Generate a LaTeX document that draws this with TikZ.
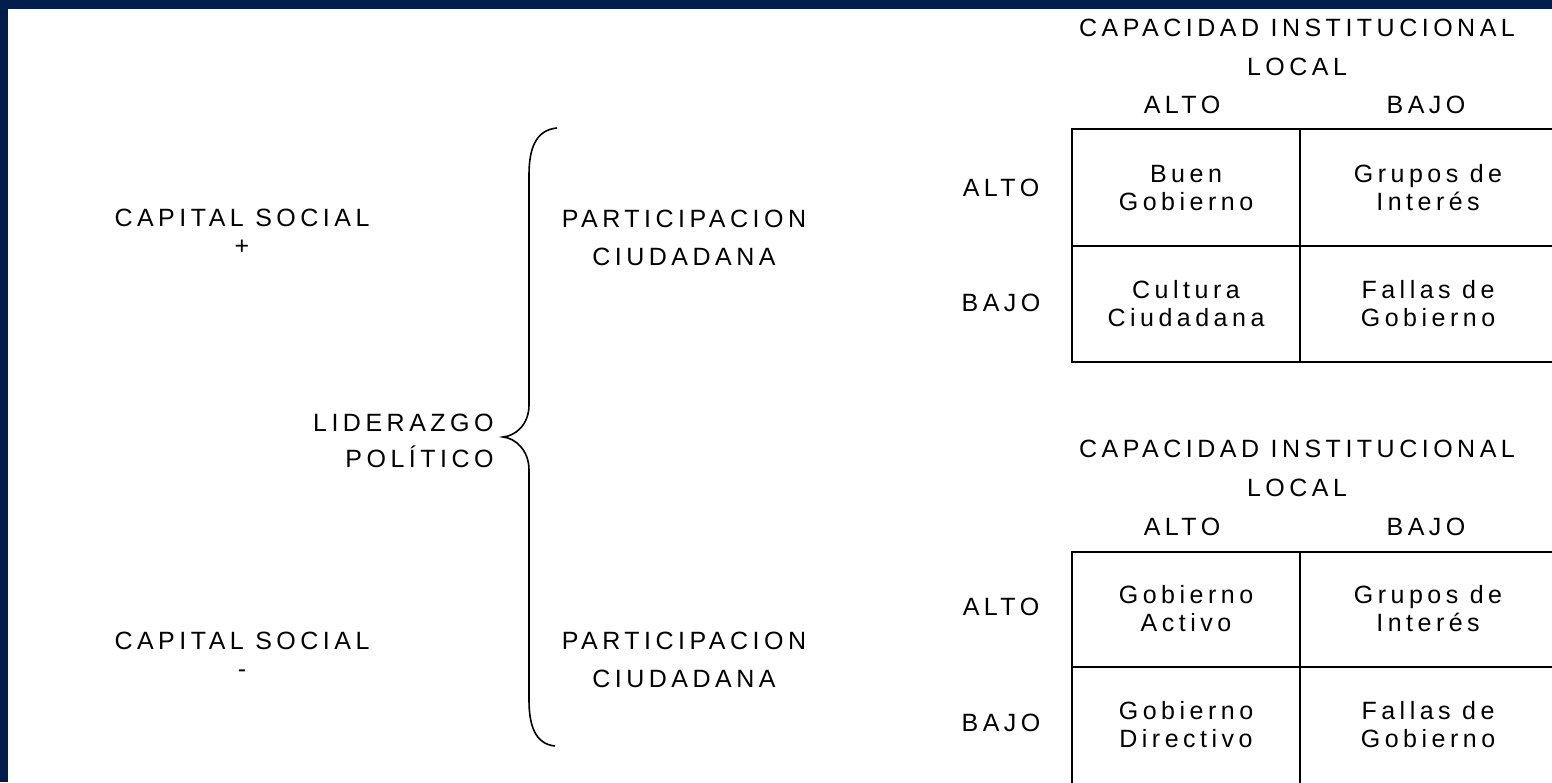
\documentclass[tikz,border=0pt]{standalone}
\usepackage{fontspec}
\setmainfont{Liberation Sans}[LetterSpace=18]
\usetikzlibrary{positioning,calc}
\definecolor{marco}{RGB}{0,29,76}

\begin{document}
\begin{tikzpicture}[
			x=0.5pt, y=-0.5pt, % un pixel de la imagen
			txt/.style={inner sep=0pt, align=center, font=\fontsize{12.5}{14}\selectfont},
			rejilla/.style={black, line width=1pt},
			llave/.style={black, line width=0.8pt}]
		\useasboundingbox (0,0) rectangle (1552,782);
		\fill [marco] (0,0) rectangle (1552,782);
		\fill [white] (8,9) rectangle (1560,790);
		% lado izquierdo
		\path 	(242,232) 	node 	(cs1) [txt] {CAPITAL SOCIAL\\+}
		        (242,655) 	node 	(cs2) [txt] {CAPITAL SOCIAL\\-}
		        (684,238) 	node 	(pc1) [txt] {PARTICIPACION\\[5pt]CIUDADANA}
		        (684,660) 	node 	(pc2) [txt] {PARTICIPACION\\[5pt]CIUDADANA}
		        (503,437) 	coordinate (punta)
		        (494,441) 	node 	(lp) [txt, anchor=east, align=right] {LIDERAZGO\\[4pt]POLÍTICO};
		\draw [llave] (557,128) .. controls (535,130) and (529,150) .. (529,175) -- (529,405)
		        .. controls (529,425) and (515,436) .. (punta)
		        .. controls (515,438) and (529,450) .. (529,470) -- (529,700)
		        .. controls (529,725) and (535,744) .. (555,746);
		% primera tabla
		\path 	(1297,47.5) node 	(ci1) [txt] {CAPACIDAD INSTITUCIONAL\\[5.5pt]LOCAL}
		        (1182,105) 	node 	(ca1) [txt] {ALTO}
		        (1426,105) 	node 	(cb1) [txt] {BAJO}
		        (1001,188) 	node 	(fa1) [txt] {ALTO}
		        (1001,303) 	node 	(fb1) [txt] {BAJO}
		        (1186,188) 	node 	(c11) [txt] {Buen\\Gobierno}
		        (1428,188) 	node 	(c12) [txt] {Grupos de\\Interés}
		        (1186,303.5) node 	(c21) [txt] {Cultura\\Ciudadana}
		        (1428,303.5) node 	(c22) [txt] {Fallas de\\Gobierno};
		\draw [rejilla] (1072,129) rectangle (1556,362) (1300,129) -- (1300,362) (1072,246) -- (1556,246);
		% segunda tabla
		\path 	(1297,468) 	node 	(ci2) [txt] {CAPACIDAD INSTITUCIONAL\\[5.5pt]LOCAL}
		        (1182,527) 	node 	(ca2) [txt] {ALTO}
		        (1426,527) 	node 	(cb2) [txt] {BAJO}
		        (1001,607) 	node 	(fa2) [txt] {ALTO}
		        (1001,723) 	node 	(fb2) [txt] {BAJO}
		        (1186,608.5) node 	(d11) [txt] {Gobierno\\Activo}
		        (1428,608.5) node 	(d12) [txt] {Grupos de\\Interés}
		        (1186,725) 	node 	(d21) [txt] {Gobierno\\Directivo}
		        (1428,725) 	node 	(d22) [txt] {Fallas de\\Gobierno};
		\draw [rejilla] (1072,552) rectangle (1556,786) (1300,552) -- (1300,786) (1072,667) -- (1556,667);
	\end{tikzpicture}
\end{document}
